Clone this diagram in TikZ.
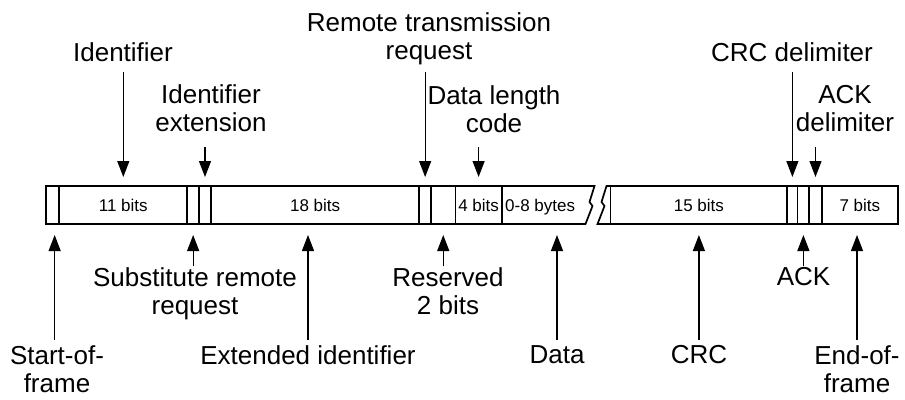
\documentclass[tikz,border=0pt]{standalone}
\usepackage{fontspec}
\setmainfont{Liberation Sans}
\usetikzlibrary{arrows.meta,positioning}
\tikzset{
  >={Triangle[length=16pt,width=12pt]},
  field/.style={draw, line width=1.7pt, minimum height=38pt, inner sep=0pt, outer sep=0pt,
                font=\fontsize{17}{20}\selectfont},
  fieldtext/.style={inner sep=0pt, outer sep=0pt, font=\fontsize{17}{20}\selectfont},
  fieldname/.style={inner sep=0pt, anchor=north, align=center, font=\fontsize{26}{28.5}\selectfont},
  down/.style={->, line width=1.2pt, shorten >=9pt},
  up/.style={->, line width=1.2pt, shorten >=11pt}
}

\begin{document}
\begin{tikzpicture}[x=1pt,y=-1pt]
  \useasboundingbox (0,0) rectangle (905,399);

  % Rows where the arrows start.
  \coordinate (toptail) at (0,72);
  \coordinate (midtail) at (0,147);
  \coordinate (lowtail) at (0,266);
  \coordinate (basetail) at (0,340);

  % Fields of the frame, left part.
  \node[field, minimum width=13.3, anchor=west] (sof) at (46,205) {};
  \node[field, minimum width=128, right=0pt of sof] (id) {11 bits};
  \node[field, minimum width=11.7, right=0pt of id] (srr) {};
  \node[field, minimum width=12, right=0pt of srr] (ide) {};
  \node[field, minimum width=208.3, right=0pt of ide] (extid) {18 bits};
  \node[field, minimum width=11.7, right=0pt of extid] (rtr) {};
  \node[field, minimum width=24.5, right=0pt of rtr] (res) {};
  \node[field, minimum width=46.2, right=0pt of res] (dlc) {4 bits};
  \node[fieldtext, anchor=base west] (data) at ([xshift=3.5pt]dlc.base east) {0-8 bytes};

  % Fields of the frame, right part.
  \node[field, minimum width=176.8, anchor=west] (crc) at (610.5,205) {15 bits};
  \node[field, minimum width=10.2, right=0pt of crc] (crcdel) {};
  \node[field, minimum width=11.8, right=0pt of crcdel] (ack) {};
  \node[field, minimum width=12.4, right=0pt of ack] (ackdel) {};
  \node[field, minimum width=76.3, right=0pt of ackdel] (eof) {7 bits};

  % Break in the data field.
  \draw[line width=1.7pt, line join=miter] (dlc.north east) -- (594.5,186) -- ++(-5,16) -- ++(3,4)
    -- (585.5,224) -- (dlc.south east);
  \draw[line width=1.7pt, line join=miter] (crc.north west) -- (606.5,186) -- ++(-5,16) -- ++(3,4)
    -- (597.5,224) -- (crc.south west);

  % Names above the frame.
  \node[fieldname] (idname) at (123,42) {Identifier};
  \node[fieldname] (idename) at (211,84) {Identifier\\extension};
  \node[fieldname] (rtrname) at (429,12) {Remote transmission\\request};
  \node[fieldname] (dlcname) at (494,85) {Data length\\code};
  \node[fieldname] (crcdelname) at (792,42) {CRC delimiter};
  \node[fieldname] (ackdelname) at (845,85) {ACK\\delimiter};

  % Names below the frame.
  \node[fieldname] (sofname) at (57,345) {Start-of-\\frame};
  \node[fieldname] (srrname) at (195,267) {Substitute remote\\request};
  \node[fieldname] (extidname) at (308,345) {Extended identifier};
  \node[fieldname] (resname) at (448,267) {Reserved\\2 bits};
  \node[fieldname] (dataname) at (557,345) {Data};
  \node[fieldname] (crcname) at (699,345) {CRC};
  \node[fieldname] (ackname) at (803.5,267) {ACK};
  \node[fieldname] (eofname) at (857,345) {End-of-\\frame};

  % Arrows from above.
  \draw[down] (id.north |- toptail) -- (id.north);
  \draw[down] (ide.north |- midtail) -- (ide.north);
  \draw[down] (rtr.north |- toptail) -- (rtr.north);
  \draw[down] (dlc.north |- midtail) -- (dlc.north);
  \draw[down] (crcdel.north |- toptail) -- (crcdel.north);
  \draw[down] (ackdel.north |- midtail) -- (ackdel.north);

  % Arrows from below.
  \draw[up] ([xshift=2pt]sof.south |- basetail) -- ([xshift=2pt]sof.south);
  \draw[up] (srr.south |- lowtail) -- (srr.south);
  \draw[up] (extidname.north |- basetail) -- (extidname.north |- extid.south);
  \draw[up] (res.south |- lowtail) -- (res.south);
  \draw[up] (dataname.north |- basetail) -- (dataname.north |- dlc.south);
  \draw[up] (crc.south |- basetail) -- (crc.south);
  \draw[up] (ack.south |- lowtail) -- (ack.south);
  \draw[up] (eofname.north |- basetail) -- (eofname.north |- eof.south);
\end{tikzpicture}
\end{document}
